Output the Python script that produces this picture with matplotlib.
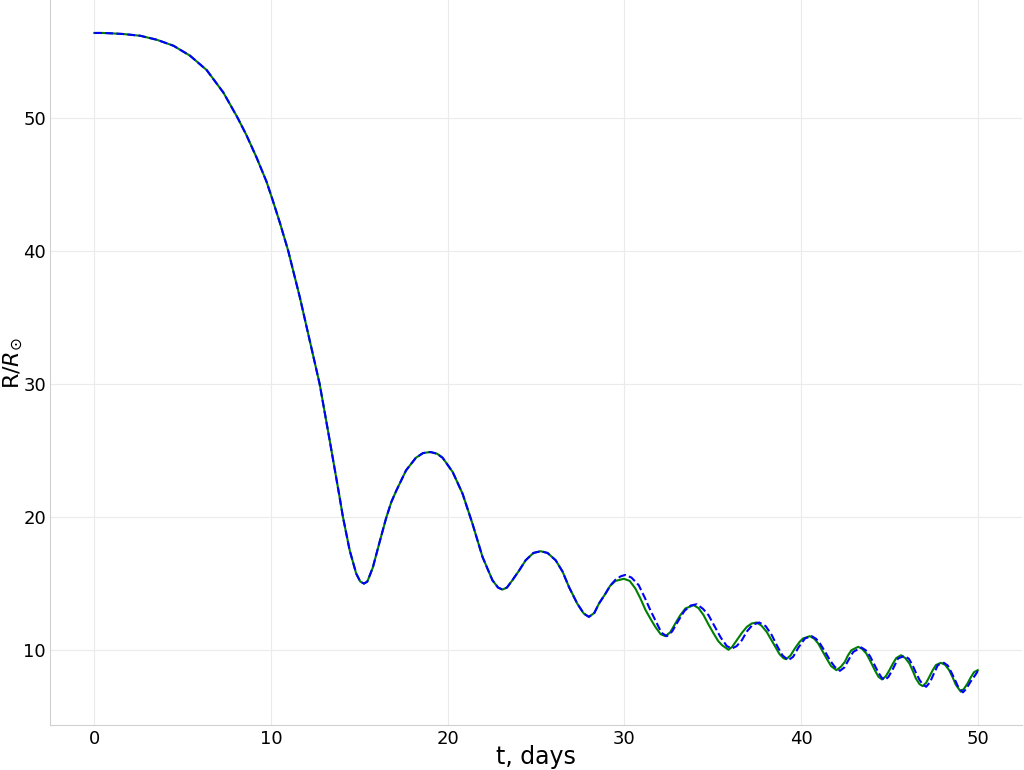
import matplotlib
matplotlib.use("Agg")
import matplotlib.pyplot as plt

# -------------------------------------------
# Radius evolution (t in days, R in solar radii)
# both runs coincide up to ~29 days
# -------------------------------------------
t_common = [0, 0.5, 1, 1.65, 2.6, 3.54, 4.48, 5.42, 6.36, 7.3, 8.1, 8.6, 9.18,
            9.74, 10.08, 10.5, 10.97, 11.63, 12.19, 12.75, 13.32, 13.88,
            14.07, 14.45, 14.82, 15.05, 15.26, 15.45, 15.76, 16.14, 16.51,
            16.8, 17.08, 17.64, 18.2, 18.6, 19.02, 19.4, 19.71, 20.28, 20.84,
            21.4, 21.97, 22.53, 22.85, 23.1, 23.35, 23.66, 24.05, 24.41, 24.85,
            25.26, 25.65, 26.11, 26.5, 26.86, 27.33, 27.7, 27.99, 28.3, 28.56,
            28.93]
R_common = [56.35, 56.35, 56.32, 56.27, 56.14, 55.84, 55.39, 54.64, 53.56,
            51.88, 50.0, 48.7, 47.0, 45.2, 43.85, 42.1, 40.0, 36.5, 33.26,
            30.0, 25.75, 21.5, 20.0, 17.5, 15.75, 15.15, 15.0, 15.15, 16.2,
            18.1, 19.9, 21.1, 21.95, 23.5, 24.45, 24.8, 24.88, 24.75, 24.45,
            23.38, 21.75, 19.5, 17.0, 15.25, 14.7, 14.55, 14.7, 15.25, 16.0,
            16.75, 17.3, 17.43, 17.3, 16.75, 15.9, 14.75, 13.5, 12.75, 12.5,
            12.8, 13.5, 14.25]

t_green = [29.2, 29.5, 29.97, 30.3, 30.62, 30.9, 31.2, 31.5, 31.75, 32.05,
           32.32, 32.6, 32.88, 33.15, 33.45, 33.92, 34.2, 34.48, 34.75, 35.05,
           35.3, 35.52, 35.89, 36.1, 36.36, 36.65, 36.93, 37.2, 37.49, 37.75,
           38.05, 38.3, 38.53, 38.78, 39.0, 39.15, 39.4, 39.65, 39.9, 40.11,
           40.5, 40.75, 40.97, 41.2, 41.44, 41.7, 42.0, 42.25, 42.48, 42.65,
           42.85, 43.23, 43.45, 43.69, 43.95, 44.17, 44.38, 44.58, 44.8, 45.0,
           45.2, 45.38, 45.66, 45.9, 46.13, 46.32, 46.5, 46.7, 46.88, 47.08,
           47.26, 47.45, 47.63, 47.91, 48.15, 48.38, 48.58, 48.76, 49.04,
           49.22, 49.42, 49.6, 49.79, 50]
R_green = [14.85, 15.2, 15.36, 15.2, 14.63, 13.9, 13.0, 12.3, 11.75, 11.2,
           11.05, 11.35, 12.0, 12.6, 13.13, 13.38, 13.15, 12.63, 11.95, 11.25,
           10.7, 10.38, 10.03, 10.25, 10.75, 11.3, 11.75, 12.0, 12.08, 11.85,
           11.38, 10.8, 10.25, 9.7, 9.4, 9.32, 9.6, 10.13, 10.6, 10.88, 11.05,
           10.85, 10.5, 9.95, 9.38, 8.8, 8.5, 8.75, 9.13, 9.6, 10.0, 10.25,
           10.1, 9.75, 9.1, 8.5, 8.0, 7.8, 8.05, 8.5, 9.0, 9.4, 9.62, 9.4, 9.0,
           8.45, 7.87, 7.45, 7.3, 7.55, 8.0, 8.5, 8.88, 9.05, 8.9, 8.5, 7.95,
           7.4, 6.88, 7.1, 7.5, 7.95, 8.35, 8.5]

t_blue = [29.2, 29.5, 29.8, 30.05, 30.4, 30.81, 31.15, 31.47, 31.8, 32.1,
          32.4, 32.7, 33.07, 33.4, 33.75, 34.1, 34.45, 34.76, 35.1, 35.45,
          35.8, 36.08, 36.35, 36.65, 36.93, 37.25, 37.63, 38.0, 38.34, 38.65,
          38.95, 39.28, 39.55, 39.85, 40.22, 40.6, 40.85, 41.07, 41.35, 41.63,
          41.9, 42.2, 42.45, 42.7, 42.95, 43.41, 43.65, 43.9, 44.15, 44.35,
          44.55, 44.73, 44.95, 45.2, 45.49, 45.86, 46.1, 46.3, 46.5, 46.71,
          46.9, 47.08, 47.3, 47.5, 47.74, 48.08, 48.3, 48.5, 48.7, 48.87,
          49.16, 49.35, 49.6, 49.92, 50]
R_blue = [14.85, 15.3, 15.55, 15.65, 15.45, 14.88, 13.95, 13.0, 12.1, 11.3,
          11.05, 11.4, 12.25, 12.95, 13.35, 13.45, 13.1, 12.63, 11.8, 10.95,
          10.3, 10.12, 10.3, 10.75, 11.4, 11.9, 12.08, 11.8, 11.13, 10.3, 9.6,
          9.25, 9.5, 10.2, 10.88, 11.05, 10.85, 10.5, 9.9, 9.25, 8.75, 8.45,
          8.7, 9.3, 9.87, 10.2, 10.0, 9.55, 8.9, 8.38, 7.95, 7.75, 8.0, 8.6,
          9.38, 9.57, 9.35, 8.9, 8.3, 7.75, 7.4, 7.25, 7.6, 8.2, 8.88, 9.05,
          8.85, 8.35, 7.8, 7.3, 6.83, 7.1, 7.65, 8.25, 8.45]

# -------------------------------------------
# Plot
# -------------------------------------------
fig = plt.figure(figsize=(10.24, 7.7), dpi=100)
ax = fig.add_axes([0.049, 0.058, 0.949, 0.942])

ax.plot(t_common + t_green, R_common + R_green, color="green", lw=1.5)
ax.plot(t_common + t_blue, R_common + R_blue, color="blue", lw=1.5, ls="--")

ax.grid(True, color="#ebebeb", lw=0.8)
ax.set_axisbelow(True)
for s in ["top", "right"]:
    ax.spines[s].set_visible(False)
for s in ["left", "bottom"]:
    ax.spines[s].set_color("#d0d0d0")
ax.tick_params(length=0, labelsize=13, pad=3)

ax.set_xlabel("t, days", fontsize=17, labelpad=-2)
ax.set_ylabel(r"R/$R_{\odot}$", fontsize=16, labelpad=-1)

fig.savefig("out.png", dpi=100)
